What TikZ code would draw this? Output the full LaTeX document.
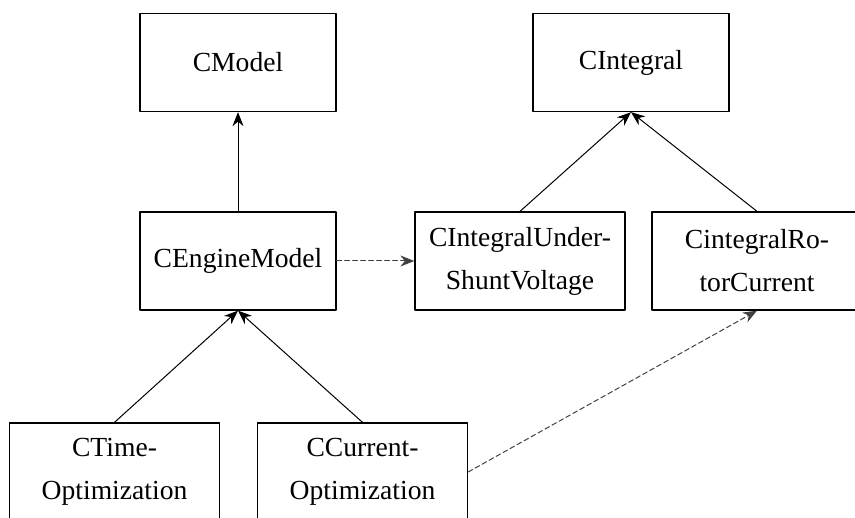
\documentclass[tikz,border=0pt]{standalone}
\usepackage{fontspec}
\setmainfont{Liberation Serif}
\usetikzlibrary{arrows.meta}
\usetikzlibrary{positioning}

\begin{document}
\begin{tikzpicture}[line cap=round,line join=round,>={Stealth[length=7pt,width=5.5pt]},x=0.5pt,y=0.5pt,
  classbox/.style={draw=black,line width=0.65pt,minimum width=98pt,minimum height=49pt,inner sep=0pt,align=center,font=\fontsize{13.8}{21.5}\selectfont},
  inherit/.style={->,line width=0.5pt,color=black},
  uses/.style={->,line width=0.5pt,color=black!75,dash pattern=on 2.5pt off 1.5pt}]
\useasboundingbox (0,0) rectangle (855,518);
\clip (0,0) rectangle (855,518);
\node[classbox] (model) at (238,455.5) {CModel};
\node[classbox] (engine) at (238,257) {CEngineModel};
\node[classbox] (integral) at (631,455.5) {CIntegral};
\node[classbox,minimum width=105pt] (under) at (520,257) {CIntegralUnder-\\ShuntVoltage};
\node[classbox,minimum width=105pt] (rotor) at (757,257) {CintegralRo-\\torCurrent};
\node[classbox,minimum width=105pt] (timeopt) at (114.5,46) {CTime-\\Optimization};
\node[classbox,minimum width=105pt] (curopt) at (362.5,46) {CCurrent-\\Optimization};
\draw[inherit] (engine) -- (model);
\draw[inherit] (under.north) -- (integral.south);
\draw[inherit] (rotor.north) -- (integral.south);
\draw[inherit] (timeopt.north) -- (engine.south);
\draw[inherit] (curopt.north) -- (engine.south);
\draw[uses] (engine) -- (under);
\draw[uses] (curopt.east) -- (rotor.south);
\end{tikzpicture}
\end{document}
